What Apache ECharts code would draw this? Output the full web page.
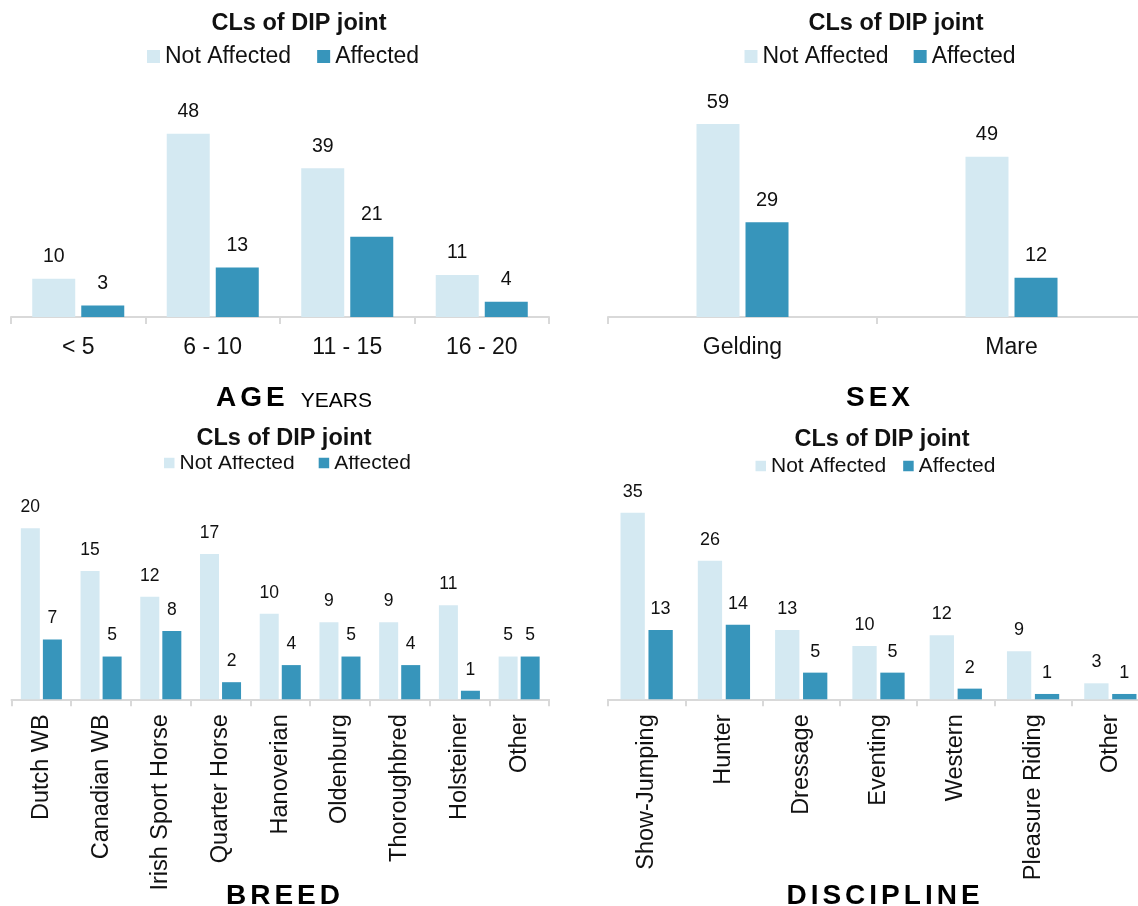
<!DOCTYPE html>
<html>
<head>
<meta charset="utf-8">
<script src="https://cdn.jsdelivr.net/npm/echarts@6/dist/echarts.min.js"></script>
<style>
  html, body { margin: 0; padding: 0; background: #fff; }
  #chart { width: 1138px; height: 906px; }
</style>
</head>
<body>
<div id="chart"></div>
<script>
// Counts of horses with collateral ligament (CL) lesions of the DIP joint
const seriesNames = ['Not Affected', 'Affected'];

const ageCategories = ['< 5', '6 - 10', '11 - 15', '16 - 20'];
const ageNotAffected = [10, 48, 39, 11];
const ageAffected = [3, 13, 21, 4];

const sexCategories = ['Gelding', 'Mare'];
const sexNotAffected = [59, 49];
const sexAffected = [29, 12];

const breedCategories = ['Dutch WB', 'Canadian WB', 'Irish Sport Horse', 'Quarter Horse',
  'Hanoverian', 'Oldenburg', 'Thoroughbred', 'Holsteiner', 'Other'];
const breedNotAffected = [20, 15, 12, 17, 10, 9, 9, 11, 5];
const breedAffected = [7, 5, 8, 2, 4, 5, 4, 1, 5];

const disciplineCategories = ['Show-Jumping', 'Hunter', 'Dressage', 'Eventing',
  'Western', 'Pleasure Riding', 'Other'];
const disciplineNotAffected = [35, 26, 13, 10, 12, 9, 3];
const disciplineAffected = [13, 14, 5, 5, 2, 1, 1];

const chartTitle = 'CLs of DIP joint';

const FONT = "'Liberation Sans', Arial, Helvetica, sans-serif";
const LIGHT = '#d4e9f2';
const DARK = '#3795bb';
const INK = '#111111';
const AXIS = '#d9d9d9';

// Layout of the four panels
const panels = [
  { cats: ageCategories, not: ageNotAffected, aff: ageAffected,
    grid: { left: 11, top: 88, width: 538, height: 229 }, max: 60,
    barWidth: 43, barGap: '14%', labelSize: 19.5, catSize: 23, rotate: 0, margin: 19,
    title: { left: 299, top: 12, bg: null },
    legend: { left: 147, top: 45, size: 23, icon: 13, gap: 26 } },
  { cats: sexCategories, not: sexNotAffected, aff: sexAffected,
    grid: { left: 608, top: 88, width: 538, height: 229 }, max: 70,
    barWidth: 43, barGap: '14%', labelSize: 20, catSize: 23, rotate: 0, margin: 19,
    title: { left: 896, top: 12, bg: null },
    legend: { left: 744.5, top: 45, size: 23, icon: 13, gap: 25 } },
  { cats: breedCategories, not: breedNotAffected, aff: breedAffected,
    grid: { left: 11.5, top: 485.5, width: 537.5, height: 213.8 }, max: 25,
    barWidth: 19, barGap: '16%', labelSize: 17.5, catSize: 23.5, rotate: 90, margin: 15,
    title: { left: 280, top: 426.8, bg: '#fff' },
    legend: { left: 164, top: 452.5, size: 21, icon: 10.5, gap: 24 } },
  { cats: disciplineCategories, not: disciplineNotAffected, aff: disciplineAffected,
    grid: { left: 608, top: 486, width: 541, height: 213.3 }, max: 40,
    barWidth: 24.3, barGap: '15%', labelSize: 18, catSize: 23.5, rotate: 90, margin: 15,
    title: { left: 882, top: 428, bg: null },
    legend: { left: 755.5, top: 455.5, size: 21, icon: 10.5, gap: 17 } }
];

// Axis captions under each panel (spaced bold headings)
function spaced(word) {
  return word.split('').map((c, i, a) =>
    (i < a.length - 1 ? '{h|' : '{hl|') + c + '}').join('');
}
const captionRich = {
  h: { fontFamily: FONT, fontSize: 28, fontWeight: 'bold', color: INK,
       padding: [0, 4, 0, 0], verticalAlign: 'bottom', lineHeight: 28 },
  hl: { fontFamily: FONT, fontSize: 28, fontWeight: 'bold', color: INK,
        verticalAlign: 'bottom', lineHeight: 28 },
  s: { fontFamily: FONT, fontSize: 21, color: INK, padding: [0, 0, 0, 16],
       verticalAlign: 'bottom', lineHeight: 21 }
};
const captions = [
  { text: spaced('AGE') + '{s|YEARS}', x: 294, y: 398 },
  { text: spaced('SEX'), x: 878, y: 398 },
  { text: spaced('BREED'), x: 283, y: 896 },
  { text: spaced('DISCIPLINE'), x: 883, y: 896 }
];

const option = {
  animation: false,
  backgroundColor: '#fff',
  title: panels.map(p => ({
    text: chartTitle,
    left: p.title.left,
    top: p.title.top,
    textAlign: 'center',
    padding: p.title.bg ? [0, 4, 5, 4] : 0,
    backgroundColor: p.title.bg || 'transparent',
    z: 10,
    textStyle: { fontFamily: FONT, fontSize: 23.5, fontWeight: 'bold', color: INK }
  })),
  legend: panels.map(p => ({
    data: seriesNames,
    left: p.legend.left,
    top: p.legend.top,
    padding: 0,
    icon: 'rect',
    itemWidth: p.legend.icon,
    itemHeight: p.legend.icon,
    itemGap: p.legend.gap,
    selectedMode: false,
    textStyle: { fontFamily: FONT, fontSize: p.legend.size, color: INK }
  })),
  grid: panels.map(p => Object.assign({ containLabel: false, outerBoundsMode: 'none' }, p.grid)),
  xAxis: panels.map((p, i) => ({
    type: 'category',
    gridIndex: i,
    data: p.cats,
    axisLine: { show: true, lineStyle: { color: AXIS, width: 2 } },
    axisTick: { show: true, length: 7, lineStyle: { color: AXIS, width: 2 } },
    axisLabel: {
      interval: 0, rotate: p.rotate, margin: p.margin,
      fontFamily: FONT, fontSize: p.catSize, color: INK
    },
    splitLine: { show: false }
  })),
  yAxis: panels.map((p, i) => ({
    type: 'value', gridIndex: i, min: 0, max: p.max, show: false,
    splitLine: { show: false }
  })),
  series: panels.flatMap((p, i) => [
    { name: seriesNames[0], data: p.not, color: LIGHT },
    { name: seriesNames[1], data: p.aff, color: DARK }
  ].map(s => ({
    type: 'bar',
    name: s.name,
    xAxisIndex: i,
    yAxisIndex: i,
    data: s.data,
    barWidth: p.barWidth,
    barGap: p.barGap,
    itemStyle: { color: s.color },
    emphasis: { disabled: true },
    label: {
      show: true, position: 'top', distance: 12,
      fontFamily: FONT, fontSize: p.labelSize, color: INK
    }
  }))),
  graphic: captions.map(c => ({
    type: 'text',
    x: c.x,
    y: c.y,
    style: {
      text: c.text,
      rich: captionRich,
      align: 'center', textAlign: 'center',
      verticalAlign: 'middle', textVerticalAlign: 'middle'
    }
  }))
};

const chart = echarts.init(document.getElementById('chart'), null, { renderer: 'canvas' });
chart.setOption(option);
</script>
</body>
</html>
